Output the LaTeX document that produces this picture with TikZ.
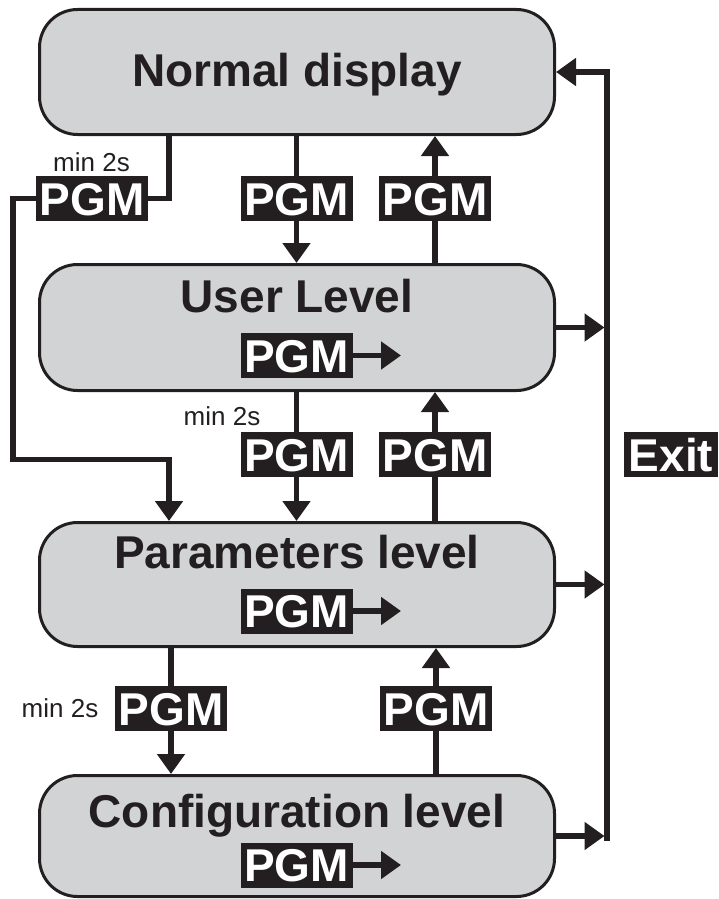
\documentclass[tikz,border=0pt]{standalone}
\usepackage{fontspec}
\setmainfont{Liberation Sans}
\usetikzlibrary{arrows.meta}
\definecolor{ink}{HTML}{231F20}
\definecolor{boxgray}{HTML}{D1D3D4}
\tikzset{
  levelbox/.style={draw=ink, fill=boxgray, line width=3pt, rounded corners=38pt, minimum width=515pt, inner sep=0pt},
  title/.style={anchor=base, text=ink, font=\bfseries\fontsize{46}{46}\selectfont, inner sep=0pt},
  key/.style={fill=ink, text=white, font=\bfseries\fontsize{46}{46}\selectfont, minimum width=112pt, minimum height=45pt, text height=33pt, text depth=0pt, inner sep=0pt},
  note/.style={text=ink, font=\fontsize{26}{26}\selectfont, inner sep=0pt},
  conn/.style={draw=ink, line width=5.5pt},
  tip/.style={-{Triangle[length=20pt,width=27pt]}},
}
\begin{document}
\begin{tikzpicture}[x=1pt,y=-1pt]
\useasboundingbox (0,0) rectangle (719,899);
% level boxes
\node[levelbox, minimum height=125pt] (norm) at (297,72) {};
\node[levelbox, minimum height=126pt] (user) at (297,327.5) {};
\node[levelbox, minimum height=124pt] (par) at (297,584.5) {};
\node[levelbox, minimum height=121pt] (cfg) at (297,836) {};
% titles
\node[title] (tnorm) at (297,86) {Normal display};
\node[title] (tuser) at (297,312) {User Level};
\node[title] (tpar) at (297,568) {Parameters level};
\node[title] (tcfg) at (297,827) {Configuration level};
% PGM keys
\node[key] (pL) at (92,198.5) {PGM};
\node[key] (pA) at (296.5,198.5) {PGM};
\node[key] (pB) at (435,198.5) {PGM};
\node[key] (pU) at (296.5,355.5) {PGM};
\node[key] (pC) at (296.5,454.5) {PGM};
\node[key] (pD) at (435,454.5) {PGM};
\node[key] (pP) at (296.5,611) {PGM};
\node[key] (pE) at (171,708.5) {PGM};
\node[key] (pF) at (436,708.5) {PGM};
\node[key] (pG) at (296.5,865) {PGM};
\node[key, minimum width=94pt] (exit) at (671,454.5) {Exit};
% notes
\node[note] (m1) at (91.5,162) {min 2s};
\node[note] (m2) at (222,416) {min 2s};
\node[note] (m3) at (60,708) {min 2s};
% helper coordinates
\coordinate (cx) at (169,0);
\coordinate (lft) at (13,459.5);
\coordinate (ex) at (604.5,0);
\coordinate (exb) at (607,840.7);
\coordinate (ar) at (401,0);
% Normal <-> User
\draw[conn] (norm.south -| cx) |- (pL.east);
\draw[conn, tip] (pL.west) -| (lft) -| (par.north -| cx);
\draw[conn] (norm.south -| pA) -- (pA.north);
\draw[conn, tip] (pA.south) -- (user.north -| pA);
\draw[conn] (user.north -| pB) -- (pB.south);
\draw[conn, tip] (pB.north) -- (norm.south -| pB);
% User <-> Parameters
\draw[conn] (user.south -| pC) -- (pC.north);
\draw[conn, tip] (pC.south) -- (par.north -| pC);
\draw[conn] (par.north -| pD) -- (pD.south);
\draw[conn, tip] (pD.north) -- (user.south -| pD);
% Parameters <-> Configuration
\draw[conn] (par.south -| pE) -- (pE.north);
\draw[conn, tip] (pE.south) -- (cfg.north -| pE);
\draw[conn] (cfg.north -| pF) -- (pF.south);
\draw[conn, tip] (pF.north) -- (par.south -| pF);
% PGM arrows inside boxes
\draw[conn, tip] (pU.east) -- (pU.east -| ar);
\draw[conn, tip] (pP.east) -- (pP.east -| ar);
\draw[conn, tip] (pG.east) -- (pG.east -| ar);
% Exit
\draw[conn, tip] (user.east) -- (user.east -| ex);
\draw[conn, tip] (par.east) -- (par.east -| ex);
\draw[conn, tip] (cfg.east) -- (cfg.east -| ex);
\draw[conn, tip] (exb) |- (norm.east);
\end{tikzpicture}
\end{document}
